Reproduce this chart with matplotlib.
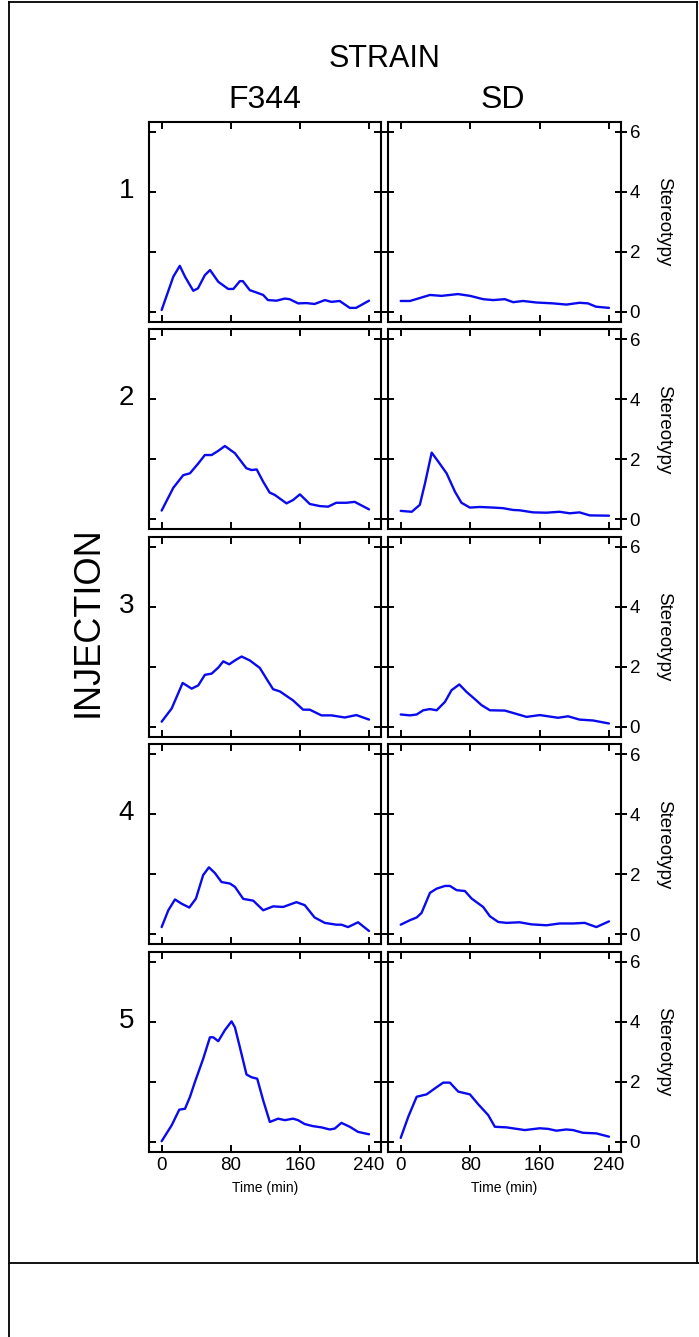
import matplotlib
matplotlib.use('Agg')
import matplotlib.pyplot as plt
from matplotlib.lines import Line2D
import numpy as np

plt.rcParams['font.family'] = ['Liberation Sans', 'DejaVu Sans']

# Stereotypy over time
# (time in min, score) per injection (1-5) and strain
f344_t = [
    [0, 13.5, 21, 27, 36.6, 42, 50, 56, 65.5, 77, 83, 90.5, 94, 102, 110, 117.5, 123, 133, 142.5, 148,
     158, 167.6, 177, 189, 196.5, 206, 217.7, 225, 240],
    [0, 13.5, 25, 32.7, 42.4, 50, 57.8, 65.5, 73.2, 84.8, 98, 104, 110, 117.5, 125, 131, 144.5, 152, 160,
     171.4, 183, 192.6, 202, 213.8, 223.4, 240],
    [0, 11.6, 24.3, 34.7, 42.4, 50, 57.8, 65.5, 71.3, 78.2, 84.8, 92.5, 102, 113.6, 121.3, 129, 136.7, 152,
     163.7, 171.4, 184.9, 196.5, 211.9, 225.3, 240],
    [0, 7.7, 15.4, 23, 32, 39.7, 48, 54.7, 61.6, 69.3, 79, 84.8, 94.4, 106, 117.5, 129, 140.6, 156, 165.6,
     177, 188.8, 202, 208, 215.7, 227.3, 240],
    [0, 11.6, 20.4, 27, 32.7, 38.5, 48, 55.9, 59.7, 65.5, 73.2, 80.9, 84.8, 90.5, 98.2, 104, 110.6, 117.5,
     125.2, 134.8, 142.5, 152, 157.8, 165.6, 175.3, 184.9, 194.5, 200.3, 208, 217.7, 227.3, 240],
]
f344_v = [
    [0.06, 1.17, 1.53, 1.17, 0.7, 0.78, 1.22, 1.39, 1.0, 0.76, 0.76, 1.02, 1.02, 0.72, 0.64, 0.56, 0.39,
     0.37, 0.44, 0.42, 0.28, 0.29, 0.26, 0.39, 0.33, 0.36, 0.13, 0.13, 0.37],
    [0.29, 1.05, 1.47, 1.53, 1.86, 2.14, 2.14, 2.28, 2.44, 2.2, 1.7, 1.64, 1.66, 1.25, 0.89, 0.81, 0.53,
     0.64, 0.83, 0.51, 0.44, 0.42, 0.55, 0.55, 0.58, 0.33],
    [0.17, 0.61, 1.46, 1.27, 1.38, 1.73, 1.77, 1.97, 2.18, 2.08, 2.21, 2.34, 2.21, 1.96, 1.6, 1.25, 1.18,
     0.88, 0.57, 0.57, 0.38, 0.38, 0.31, 0.39, 0.24],
    [0.24, 0.8, 1.16, 1.02, 0.89, 1.19, 1.97, 2.23, 2.04, 1.74, 1.69, 1.58, 1.18, 1.12, 0.8, 0.93, 0.91,
     1.07, 0.97, 0.56, 0.38, 0.32, 0.32, 0.24, 0.4, 0.11],
    [0.02, 0.55, 1.07, 1.1, 1.49, 1.99, 2.76, 3.48, 3.48, 3.35, 3.72, 4.01, 3.81, 3.15, 2.24, 2.15, 2.1,
     1.38, 0.66, 0.77, 0.72, 0.77, 0.72, 0.59, 0.52, 0.48, 0.41, 0.44, 0.63, 0.5, 0.33, 0.25],
]
sd_t = [
    [0, 10.7, 33.7, 47, 66, 80, 95, 106.6, 120, 129.6, 141, 156, 175.6, 191, 206, 215.8, 225, 240],
    [0, 12.7, 22, 28, 35.7, 43.3, 52.9, 62.5, 70, 79.7, 91, 106.6, 118, 129.6, 137, 152.6, 168, 183,
     194.8, 206, 217.8, 240],
    [0, 10.7, 18.4, 26, 33.7, 41.4, 51, 58.6, 67.5, 75.9, 85.5, 93.2, 102.8, 120, 129.6, 145, 160.3,
     181.4, 192.8, 206, 221.6, 240],
    [0, 10.7, 18.4, 24, 33.7, 41.4, 51, 56.7, 64.4, 74, 81.7, 95, 102.8, 112.4, 122, 137, 150.7, 168,
     183, 198.5, 212, 225.4, 240],
    [0, 8.8, 18.4, 29.9, 39.5, 49, 56.7, 66.3, 79.7, 89.3, 100.8, 108.5, 121.9, 143, 160.2, 169.8, 179.4,
     190.9, 198.5, 210, 225.4, 240],
]
sd_v = [
    [0.36, 0.36, 0.56, 0.53, 0.59, 0.53, 0.42, 0.39, 0.42, 0.32, 0.36, 0.31, 0.28, 0.24, 0.3, 0.28, 0.17,
     0.13],
    [0.28, 0.25, 0.48, 1.2, 2.22, 1.92, 1.53, 0.92, 0.55, 0.39, 0.41, 0.39, 0.37, 0.31, 0.3, 0.23, 0.22,
     0.25, 0.2, 0.23, 0.13, 0.12],
    [0.41, 0.38, 0.41, 0.55, 0.59, 0.55, 0.83, 1.22, 1.41, 1.16, 0.92, 0.72, 0.55, 0.54, 0.46, 0.33, 0.39,
     0.3, 0.35, 0.24, 0.21, 0.11],
    [0.32, 0.47, 0.56, 0.71, 1.38, 1.52, 1.61, 1.61, 1.47, 1.44, 1.19, 0.91, 0.6, 0.41, 0.38, 0.4, 0.33,
     0.3, 0.36, 0.36, 0.38, 0.24, 0.43],
    [0.13, 0.84, 1.5, 1.58, 1.78, 1.97, 1.97, 1.67, 1.58, 1.25, 0.89, 0.5, 0.48, 0.39, 0.45, 0.43, 0.37,
     0.41, 0.39, 0.3, 0.28, 0.17],
]

strains = ['F344', 'SD']
injections = ['1', '2', '3', '4', '5']
xticks = [0, 80, 160, 240]
yticks = [0, 2, 4, 6]

W, H = 699, 1337
fig = plt.figure(figsize=(W / 100, H / 100), dpi=100)


def px(x, y):
    return x / W, 1 - y / H


col_x = [149.3, 388.3]
col_w = [231.4, 232.4]
row_h = 200
line_col = '#0a0aee'

for r in range(5):
    top = 121.7 + r * 207.5
    for c in range(2):
        ax = fig.add_axes([col_x[c] / W, 1 - (top + row_h) / H, col_w[c] / W, row_h / H])
        t = f344_t[r] if c == 0 else sd_t[r]
        v = f344_v[r] if c == 0 else sd_v[r]
        ax.plot(t, v, color=line_col, lw=1.7, solid_joinstyle='round', solid_capstyle='round')
        ax.set_xlim(-14.3, 253.5)
        ax.set_ylim(-0.33, 6.33)
        ax.set_xticks(xticks)
        ax.set_yticks(yticks)
        for s in ax.spines.values():
            s.set_linewidth(1.5)
        ax.tick_params(axis='both', direction='in', length=5, width=1.4,
                       top=True, bottom=True, left=True, right=True,
                       labelleft=False, labelright=False, labelbottom=(r == 4),
                       labelsize=13.5, pad=4)
        if c == 1:
            ax.tick_params(axis='y', which='both', right=True, direction='inout', length=9,
                           labelright=True, pad=2)
            ax.text(1.186, 0.5, 'Stereotypy', transform=ax.transAxes, rotation=-90,
                    ha='center', va='center', fontsize=13.5)
        if r == 4:
            ax.set_xlabel('Time (min)', fontsize=10, labelpad=5)
        if c == 0:
            ax.text(-0.1, 0.655, injections[r], transform=ax.transAxes,
                    ha='center', va='center', fontsize=20)

# column and row headers
fig.text(*px(385, 59), 'STRAIN', ha='center', va='center', fontsize=22)
fig.text(*px(265, 100), strains[0], ha='center', va='center', fontsize=23)
fig.text(*px(503, 100), strains[1], ha='center', va='center', fontsize=23)
fig.text(*px(88, 622), 'INJECTION', ha='center', va='center', fontsize=26, rotation=90)

# outer frame lines
lw_b = 1.3
fig.add_artist(Line2D([8.5 / W, 8.5 / W], [0, 1 - 2 / H], transform=fig.transFigure, color='black', lw=lw_b))
fig.add_artist(Line2D([8.5 / W, 697 / W], [1 - 2 / H, 1 - 2 / H], transform=fig.transFigure, color='black', lw=lw_b))
fig.add_artist(Line2D([697 / W, 697 / W], [1 - 1263 / H, 1 - 2 / H], transform=fig.transFigure, color='black', lw=lw_b))
fig.add_artist(Line2D([8.5 / W, 1], [1 - 1263 / H, 1 - 1263 / H], transform=fig.transFigure, color='black', lw=lw_b))

fig.savefig('out.png', dpi=100)
